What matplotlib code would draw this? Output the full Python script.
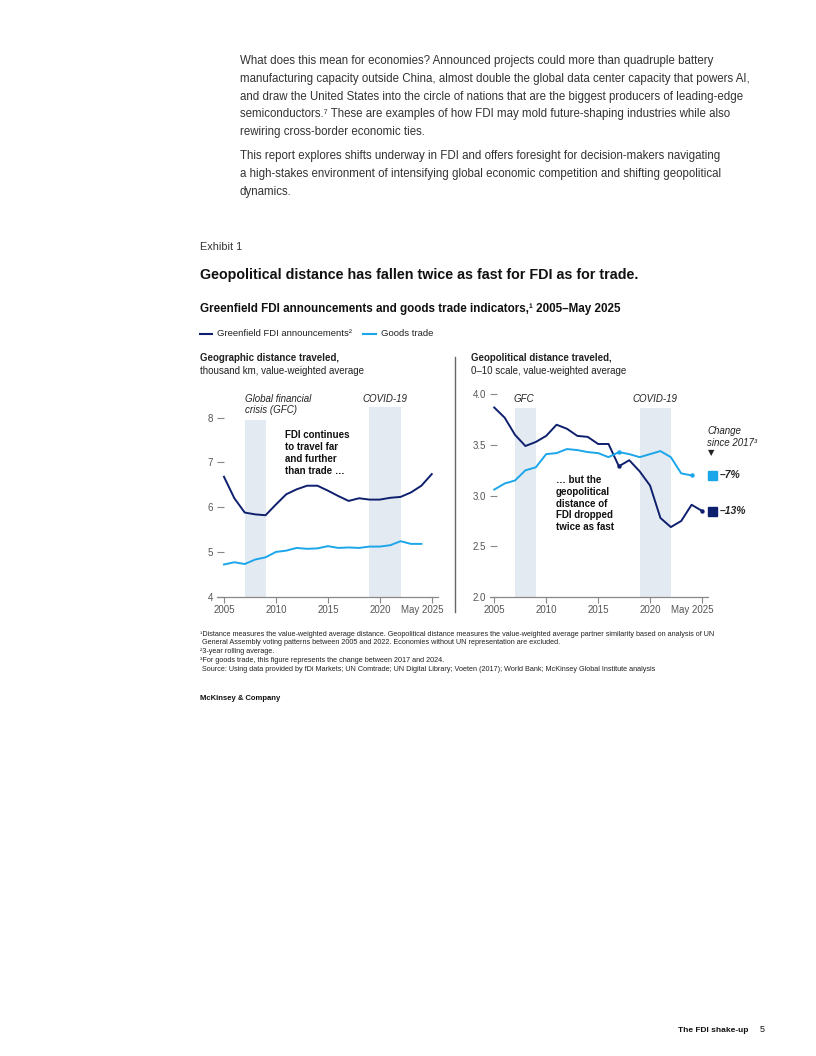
import numpy as np
import matplotlib
matplotlib.use("Agg")
import matplotlib.pyplot as plt
from matplotlib.transforms import offset_copy

plt.rcParams['font.family'] = ['Liberation Sans', 'DejaVu Sans']

# data
years = list(range(2005, 2026))
geo_fdi = [6.68, 6.20, 5.88, 5.84, 5.82, 6.06, 6.29, 6.40, 6.48, 6.48, 6.37,
           6.25, 6.14, 6.20, 6.17, 6.17, 6.21, 6.23, 6.33, 6.48, 6.74]
geo_trade = [4.72, 4.77, 4.73, 4.83, 4.88, 5.00, 5.03, 5.09, 5.07, 5.08, 5.13,
             5.09, 5.10, 5.09, 5.12, 5.12, 5.15, 5.24, 5.18, 5.18]
pol_fdi = [3.87, 3.77, 3.60, 3.49, 3.53, 3.59, 3.70, 3.66, 3.59, 3.58, 3.51,
           3.51, 3.29, 3.35, 3.24, 3.10, 2.78, 2.69, 2.75, 2.91, 2.85]
pol_trade = [3.06, 3.12, 3.15, 3.25, 3.28, 3.41, 3.42, 3.46, 3.45, 3.43, 3.42,
             3.38, 3.43, 3.41, 3.38, 3.41, 3.44, 3.38, 3.22, 3.20]
xticks = [2005, 2010, 2015, 2020, 2025]
xticklabels = ['2005', '2010', '2015', '2020', 'May 2025']
gfc = (2007, 2009)
covid = (2019, 2022)
change_labels = ['\u20137%', '\u201313%']

NAVY = '#0e1f6e'
CYAN = '#1ca6ea'
SHADE = '#e4eaf1'
GREY = '#555555'
TXT = '#222222'

W, H = 816, 1056
fig = plt.figure(figsize=(W / 100, H / 100), dpi=100)


def fx(px):
    return px / W


def fy(py):
    return 1 - py / H


def t(px, py, s, **kw):
    kw.setdefault('color', TXT)
    kw.setdefault('va', 'center')
    fig.text(fx(px), fy(py), s, **kw)


# body text
body1 = ["What does this mean for economies? Announced projects could more than quadruple battery",
         "manufacturing capacity outside China, almost double the global data center capacity that powers AI,",
         "and draw the United States into the circle of nations that are the biggest producers of leading-edge",
         "semiconductors.\u2077 These are examples of how FDI may mold future-shaping industries while also",
         "rewiring cross-border economic ties."]
for i, line in enumerate(body1):
    t(240, 61 + i * 17.8, line, fontsize=8.3, color='#333333')
body2 = ["This report explores shifts underway in FDI and offers foresight for decision-makers navigating",
         "a high-stakes environment of intensifying global economic competition and shifting geopolitical",
         "dynamics."]
for i, line in enumerate(body2):
    t(240, 156.5 + i * 17.8, line, fontsize=8.3, color='#333333')

t(200, 247, "Exhibit 1", fontsize=7.8, color='#333333')
t(200, 275, "Geopolitical distance has fallen twice as fast for FDI as for trade.",
  fontsize=10.3, fontweight='bold', color='#111111')
t(200, 309, "Greenfield FDI announcements and goods trade indicators,\u00b9 2005\u2013May 2025",
  fontsize=8.35, fontweight='bold', color='#111111')

# legend
fig.lines.append(plt.Line2D([fx(200), fx(212)], [fy(334), fy(334)], color=NAVY, lw=1.5,
                            transform=fig.transFigure))
t(217, 334, "Greenfield FDI announcements\u00b2", fontsize=6.8)
fig.lines.append(plt.Line2D([fx(363), fx(376)], [fy(334), fy(334)], color=CYAN, lw=1.5,
                            transform=fig.transFigure))
t(381, 334, "Goods trade", fontsize=6.8)

# panel headers
t(200, 358, "Geographic distance traveled,", fontsize=7, fontweight='bold')
t(200, 371, "thousand km, value-weighted average", fontsize=7)
t(471, 358, "Geopolitical distance traveled,", fontsize=7, fontweight='bold')
t(471, 371, "0\u201310 scale, value-weighted average", fontsize=7)

# separator
fig.lines.append(plt.Line2D([fx(455), fx(455)], [fy(357), fy(612)], color='#666666', lw=1.0,
                            transform=fig.transFigure))


def style(ax, yt, ylabels):
    for s in ['top', 'right', 'left']:
        ax.spines[s].set_visible(False)
    ax.spines['bottom'].set_color('#888888')
    ax.spines['bottom'].set_linewidth(0.9)
    ax.set_xticks(xticks)
    ax.set_xticklabels(xticklabels)
    ax.tick_params(axis='x', length=4, width=0.8, color='#888888', labelsize=7,
                   labelcolor=GREY, pad=2)
    ax.set_yticks(yt)
    ax.set_yticklabels(ylabels)
    ax.tick_params(axis='y', direction='in', length=5, width=0.8, color='#888888',
                   labelsize=7, labelcolor=GREY, pad=3)
    ax.patch.set_alpha(0)
    lab = ax.get_xticklabels()[-1]
    lab.set_ha('right')
    lab.set_transform(offset_copy(lab.get_transform(), fig=fig, x=11.5, y=0, units='dots'))


# left panel
ax1 = fig.add_axes([fx(217), fy(596.7), fx(438) - fx(217), (596.7 - 399.8) / H])
ax1.set_xlim(2004.33, 2025.6)
ax1.set_ylim(4, 8.4)
ax1.fill_between(gfc, 4, 7.95, color=SHADE, lw=0)
ax1.fill_between(covid, 4, 8.24, color=SHADE, lw=0)
ax1.plot(years, geo_fdi, color=NAVY, lw=1.4)
ax1.plot(years[:len(geo_trade)], geo_trade, color=CYAN, lw=1.4)
style(ax1, [4, 5, 6, 7, 8], ['4', '5', '6', '7', '8'])

# right panel
ax2 = fig.add_axes([fx(490), fy(597), fx(708) - fx(490), (597 - 384.2) / H])
ax2.set_xlim(2004.59, 2025.58)
ax2.set_ylim(2.0, 4.1)
ax2.fill_between(gfc, 2.0, 3.87, color=SHADE, lw=0)
ax2.fill_between(covid, 2.0, 3.87, color=SHADE, lw=0)
ax2.plot(years, pol_fdi, color=NAVY, lw=1.4)
ax2.plot(years[:len(pol_trade)], pol_trade, color=CYAN, lw=1.4)
i17 = years.index(2017)
ax2.scatter([2017, years[-1]], [pol_fdi[i17], pol_fdi[-1]], s=10, color=NAVY, zorder=5, lw=0)
ax2.scatter([2017, years[len(pol_trade) - 1]], [pol_trade[i17], pol_trade[-1]], s=10,
            color=CYAN, zorder=5, lw=0)
style(ax2, [2.0, 2.5, 3.0, 3.5, 4.0], ['2.0', '2.5', '3.0', '3.5', '4.0'])

# annotations left
t(245, 399, "Global financial", fontsize=7, style='italic')
t(245, 410, "crisis (GFC)", fontsize=7, style='italic')
t(362, 399, "COVID-19", fontsize=7, style='italic')
for i, line in enumerate(["FDI continues", "to travel far", "and further", "than trade \u2026"]):
    t(285, 435.5 + i * 11.8, line, fontsize=7, fontweight='bold', color='#111111')

# annotations right
t(514, 399, "GFC", fontsize=7, style='italic')
t(632, 399, "COVID-19", fontsize=7, style='italic')
for i, line in enumerate(["\u2026 but the", "geopolitical", "distance of", "FDI dropped",
                          "twice as fast"]):
    t(556, 480 + i * 11.8, line, fontsize=7, fontweight='bold', color='#111111')
t(707, 431, "Change", fontsize=7, style='italic')
t(707, 443, "since 2017\u00b3", fontsize=7, style='italic')
t(708, 453, "\u25bc", fontsize=6, family='DejaVu Sans')
fig.patches.append(plt.Rectangle((fx(708), fy(479.5)), 9 / W, 9 / H, color=CYAN,
                                 transform=fig.transFigure))
t(720, 475, change_labels[0], fontsize=7.5, fontweight='bold', style='italic')
fig.patches.append(plt.Rectangle((fx(708), fy(516)), 9 / W, 9 / H, color=NAVY,
                                 transform=fig.transFigure))
t(720, 511.5, change_labels[1], fontsize=7.5, fontweight='bold', style='italic')

# footnotes
notes = ["\u00b9Distance measures the value-weighted average distance. Geopolitical distance measures the "
         "value-weighted average partner similarity based on analysis of UN",
         " General Assembly voting patterns between 2005 and 2022. Economies without UN representation are excluded.",
         "\u00b23-year rolling average.",
         "\u00b3For goods trade, this figure represents the change between 2017 and 2024.",
         " Source: Using data provided by fDi Markets; UN Comtrade; UN Digital Library; Voeten (2017); "
         "World Bank; McKinsey Global Institute analysis"]
for i, line in enumerate(notes):
    t(200, 634 + i * 8.8, line, fontsize=5.2)
t(200, 699, "McKinsey & Company", fontsize=5.5, fontweight='bold', color='#111111')

t(748, 1030, "The FDI shake-up", fontsize=6, fontweight='bold', ha='right', color='#111111')
t(760, 1030, "5", fontsize=6.5, color='#111111')

fig.savefig('out.png', dpi=100, facecolor='white')
